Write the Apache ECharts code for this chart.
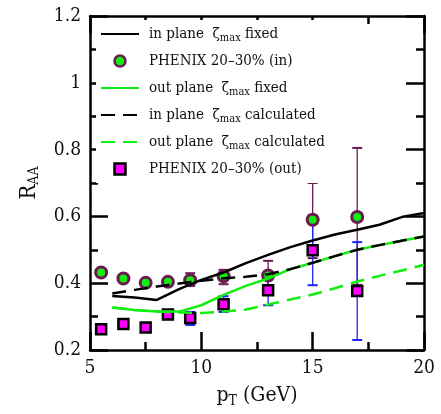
<!DOCTYPE html>
<html><head><meta charset="utf-8">
<script src="https://cdn.jsdelivr.net/npm/echarts@6/dist/echarts.min.js"></script>
<style>html,body{margin:0;padding:0;background:#fff}#c{width:441px;height:414px}</style>
</head><body><div id="c"></div>
<script>
// ---- data ----
const ptData = [5.5, 6.5, 7.5, 8.5, 9.5, 11, 13, 15, 17];
const inPlaneRaa = [0.432, 0.414, 0.401, 0.404, 0.409, 0.421, 0.423, 0.590, 0.598];
const outPlaneRaa = [0.262, 0.278, 0.267, 0.306, 0.296, 0.337, 0.379, 0.499, 0.377];
const errPt = [9.5, 11, 13, 15, 17];
const inErrLow = [0.392, 0.397, 0.380, 0.475, 0.395];
const inErrHigh = [0.430, 0.440, 0.467, 0.700, 0.805];
const outErrLow = [0.275, 0.314, 0.334, 0.394, 0.230];
const outErrHigh = [0.314, 0.361, 0.424, 0.603, 0.523];
const ptModel = [6, 7, 8, 9, 10, 11, 12, 13, 14, 15, 16, 17, 18, 19, 20];
const inFixed = [0.362, 0.357, 0.350, 0.382, 0.410, 0.432, 0.460, 0.485, 0.508, 0.528, 0.546, 0.560, 0.575, 0.598, 0.610];
const outFixed = [0.327, 0.320, 0.315, 0.315, 0.334, 0.365, 0.392, 0.414, 0.442, 0.461, 0.481, 0.500, 0.514, 0.527, 0.540];
const inCalc = [0.369, 0.380, 0.390, 0.399, 0.407, 0.415, 0.419, 0.427, 0.442, 0.461, 0.481, 0.500, 0.514, 0.527, 0.540];
const outCalc = [0.327, 0.320, 0.315, 0.312, 0.311, 0.315, 0.321, 0.336, 0.351, 0.366, 0.385, 0.405, 0.422, 0.438, 0.455];
const seriesNames = ['in plane ζmax fixed', 'PHENIX 20–30% (in)', 'out plane ζmax fixed',
  'in plane ζmax calculated', 'out plane ζmax calculated', 'PHENIX 20–30% (out)'];
const legendLabels = ['{g| }{t|in plane  ζ}{s|max}{t| fixed}', '{g| }{t|PHENIX 20–30% (in)}',
  '{g| }{t|out plane  ζ}{s|max}{t| fixed}', '{g| }{t|in plane  ζ}{s|max}{t| calculated}',
  '{g| }{t|out plane  ζ}{s|max}{t| calculated}', '{g| }{t|PHENIX 20–30% (out)}'];
const xRange = [5, 20], xStep = 5;
const yRange = [0.2, 1.2], yStep = 0.2;

// ---- chart ----
const FF = "'DejaVu Serif Condensed', 'DejaVu Serif', serif";
const zip = (xs, ys) => xs.map((x, i) => [x, ys[i]]);
const zip3 = (xs, a, b) => xs.map((x, i) => [x, a[i], b[i]]);
const GREEN = '#11ee11', PURPLE = '#6b1a50', BLUE = '#2222ff';
const NOSYM = { color: 'rgba(0,0,0,0)', borderColor: 'rgba(0,0,0,0)', borderWidth: 0 };

function errRender(color) {
  return function (params, api) {
    const x = api.value(0), lo = api.value(1), hi = api.value(2);
    const p1 = api.coord([x, hi]), p2 = api.coord([x, lo]);
    const w = 5;
    return { type: 'group', children: [
      { type: 'line', shape: { x1: p1[0], y1: p1[1], x2: p2[0], y2: p2[1] }, style: { stroke: color, lineWidth: 1.3 } },
      { type: 'line', shape: { x1: p1[0] - w, y1: p1[1], x2: p1[0] + w, y2: p1[1] }, style: { stroke: color, lineWidth: 2 } },
      { type: 'line', shape: { x1: p2[0] - w, y1: p2[1], x2: p2[0] + w, y2: p2[1] }, style: { stroke: color, lineWidth: 2 } }
    ]};
  };
}

const axLine = { show: true, lineStyle: { color: '#000', width: 2.5 } };
const axTick = { show: true, inside: true, length: 18, lineStyle: { color: '#000', width: 2.5 } };
const minTick = { show: true, splitNumber: 2, length: 8, lineStyle: { color: '#000', width: 2.5 } };
const lblStyle = { color: '#111', fontFamily: FF, fontSize: 19 };

const chart = echarts.init(document.getElementById('c'), null, { renderer: 'canvas' });
chart.setOption({
  animation: false,
  backgroundColor: '#fff',
  grid: { left: 90, right: 17, top: 16, bottom: 64 },
  xAxis: [
    { type: 'value', min: xRange[0], max: xRange[1], interval: xStep, position: 'bottom',
      axisLine: axLine, axisTick: axTick, minorTick: minTick, splitLine: { show: false },
      axisLabel: Object.assign({ margin: 9 }, lblStyle),
      name: '{a|p}{b|T}{a| (GeV)}', nameLocation: 'middle', nameGap: 32,
      nameTextStyle: { color: '#111', fontFamily: FF, fontSize: 21,
        rich: { a: { fontFamily: FF, fontSize: 21, lineHeight: 26, color: '#111' },
                b: { fontFamily: FF, fontSize: 14, lineHeight: 14, padding: [11, 0, 0, 0], color: '#111' } } } },
    { type: 'value', min: xRange[0], max: xRange[1], interval: xStep, position: 'top',
      axisLine: axLine, axisTick: axTick, minorTick: minTick, splitLine: { show: false },
      axisLabel: { show: false } }
  ],
  yAxis: [
    { type: 'value', min: yRange[0], max: yRange[1], interval: yStep, position: 'left',
      axisLine: axLine, axisTick: axTick, minorTick: minTick, splitLine: { show: false },
      axisLabel: Object.assign({ margin: 9 }, lblStyle),
      name: '{a|R}{b|AA}', nameLocation: 'middle', nameGap: 48,
      nameTextStyle: { color: '#111', fontFamily: FF, fontSize: 21,
        rich: { a: { fontFamily: FF, fontSize: 22, lineHeight: 26, color: '#111' },
                b: { fontFamily: FF, fontSize: 14, lineHeight: 14, padding: [11, 0, 0, 0], color: '#111' } } } },
    { type: 'value', min: yRange[0], max: yRange[1], interval: yStep, position: 'right',
      axisLine: axLine, axisTick: axTick, minorTick: minTick, splitLine: { show: false },
      axisLabel: { show: false } }
  ],
  legend: {
    orient: 'vertical', left: 96, top: 20, itemWidth: 38, itemHeight: 11, itemGap: 7, z: 20,
    padding: [4, 6, 4, 4], backgroundColor: '#fff', selectedMode: false,
    data: [
      { name: seriesNames[0], itemStyle: NOSYM },
      { name: seriesNames[1], itemStyle: { borderWidth: 2.5, borderColor: PURPLE, color: GREEN } },
      { name: seriesNames[2], itemStyle: NOSYM },
      { name: seriesNames[3], itemStyle: NOSYM },
      { name: seriesNames[4], itemStyle: NOSYM },
      { name: seriesNames[5], icon: 'path://M0,0H10V10H0Z',
        itemStyle: { borderWidth: 2.5, borderColor: '#000', color: '#ff00ff' } }
    ],
    formatter: name => legendLabels[seriesNames.indexOf(name)],
    textStyle: { fontFamily: FF, fontSize: 15, color: '#111', lineHeight: 20,
      rich: {
        g: { width: 5, fontSize: 15, lineHeight: 20 },
        t: { fontFamily: FF, fontSize: 15, lineHeight: 20, color: '#111' },
        s: { fontFamily: FF, fontSize: 11, lineHeight: 11, padding: [8, 0, 0, 0], color: '#111' }
      } }
  },
  series: [
    { name: seriesNames[1], type: 'scatter', data: zip(ptData, inPlaneRaa), symbol: 'circle', symbolSize: 11,
      itemStyle: { color: GREEN, borderColor: PURPLE, borderWidth: 3, opacity: 1 } },
    { name: 'inErr', type: 'custom', data: zip3(errPt, inErrLow, inErrHigh), encode: { x: 0, y: [1, 2] },
      renderItem: errRender(PURPLE) },
    { name: seriesNames[0], type: 'line', data: zip(ptModel, inFixed), symbol: 'none',
      lineStyle: { color: '#000', width: 2.5 }, itemStyle: { color: '#000' } },
    { name: seriesNames[2], type: 'line', data: zip(ptModel, outFixed), symbol: 'none',
      lineStyle: { color: GREEN, width: 2.5 }, itemStyle: { color: GREEN } },
    { name: seriesNames[3], type: 'line', data: zip(ptModel, inCalc), symbol: 'none',
      lineStyle: { color: '#000', width: 2.5, type: [14, 8] }, itemStyle: { color: '#000' } },
    { name: seriesNames[4], type: 'line', data: zip(ptModel, outCalc), symbol: 'none',
      lineStyle: { color: GREEN, width: 2.5, type: [14, 8] }, itemStyle: { color: GREEN } },
    { name: 'outErr', type: 'custom', data: zip3(errPt, outErrLow, outErrHigh), encode: { x: 0, y: [1, 2] },
      renderItem: errRender(BLUE) },
    { name: seriesNames[5], type: 'scatter', data: zip(ptData, outPlaneRaa), symbol: 'rect', symbolSize: 10,
      itemStyle: { color: '#ff00ff', borderColor: '#000', borderWidth: 2.5, opacity: 1 } }
  ]
});
</script></body></html>
